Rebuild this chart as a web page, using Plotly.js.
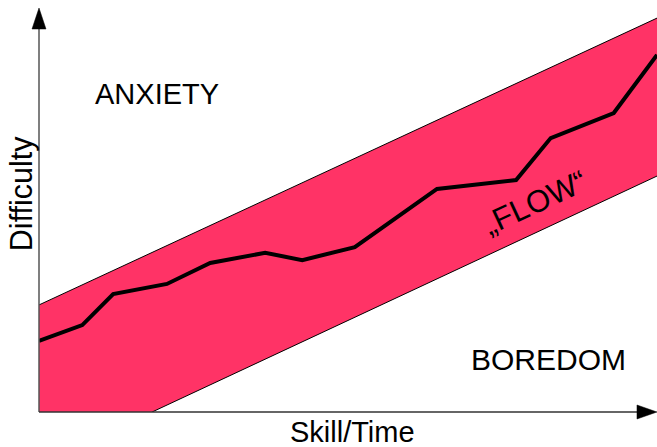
<!DOCTYPE html>
<html>
<head>
<meta charset="utf-8">
<script src="https://cdn.plot.ly/plotly-3.0.1.min.js"></script>
<style>html,body{margin:0;padding:0;background:#fff;}#chart{width:657px;height:447px;}</style>
</head>
<body>
<div id="chart"></div>
<script>
// Flow path (skill/time vs difficulty), arbitrary units 0-100
const flowX = [0, 7.0, 12.0, 20.7, 27.7, 36.6, 42.6, 51.1, 64.4, 77.2, 82.8, 93.0, 100];
const flowY = [17.6, 21.5, 29.2, 31.7, 36.9, 39.4, 37.6, 40.8, 55.2, 57.4, 67.8, 74.0, 88.4];

// Flow channel edges
const upperX = [0, 100];
const upperY = [26.5, 97.5];
const lowerX = [18.3, 100];
const lowerY = [0, 58.4];

// Region labels
const labels = ["ANXIETY", "BOREDOM", "„FLOW“"];
const labelX = [19.1, 82.4, 80.3];
const labelY = [78.7, 13.1, 51.8];
const labelAngle = [0, 0, -25];
const labelSize = [29, 30, 31];

const xTitle = "Skill/Time";
const yTitle = "Difficulty";

const pink = "#ff3366";
const fontFam = "Liberation Sans, Arial, sans-serif";

// Band polygon built from edges
const bandX = [0].concat(upperX, lowerX.slice().reverse(), [0]);
const bandY = [0].concat(upperY, lowerY.slice().reverse(), [0]);

const traces = [
  {x: bandX, y: bandY, mode: "lines", fill: "toself", fillcolor: pink,
   line: {width: 0, color: pink}, hoverinfo: "skip", showlegend: false},
  {x: upperX, y: upperY, mode: "lines", line: {color: "#000", width: 1}, showlegend: false},
  {x: lowerX, y: lowerY, mode: "lines", line: {color: "#000", width: 1}, showlegend: false},
  {x: flowX, y: flowY, mode: "lines", line: {color: "#000", width: 4}, showlegend: false}
];

const annotations = labels.map((t, i) => ({
  x: labelX[i], y: labelY[i], xref: "x", yref: "y", text: t, showarrow: false,
  textangle: labelAngle[i], font: {family: fontFam, size: labelSize[i], color: "#000"},
  xanchor: "center", yanchor: "middle"
}));
annotations.push({x: 0.508, y: -0.05, xref: "paper", yref: "paper", text: xTitle,
  showarrow: false, font: {family: fontFam, size: 29, color: "#000"}, xanchor: "center", yanchor: "middle"});
annotations.push({x: -0.027, y: 0.54, xref: "paper", yref: "paper", text: yTitle, textangle: -90,
  showarrow: false, font: {family: fontFam, size: 30.5, color: "#000"}, xanchor: "center", yanchor: "middle"});

const shapes = [
  {type: "line", xref: "paper", yref: "paper", x0: 0, y0: 0, x1: 0, y1: 0.96, line: {color: "#555", width: 1.5}},
  {type: "line", xref: "paper", yref: "paper", x0: 0, y0: 0, x1: 0.975, y1: 0, line: {color: "#333", width: 1.5}},
  {type: "path", xref: "paper", yref: "paper", path: "M 0 1 L -0.0113 0.948 L 0.0113 0.948 Z",
   fillcolor: "#000", line: {color: "#000", width: 0.5}},
  {type: "path", xref: "paper", yref: "paper", path: "M 1 0 L 0.9676 0.0173 L 0.9676 -0.0173 Z",
   fillcolor: "#000", line: {color: "#000", width: 0.5}}
];

const layout = {
  width: 657, height: 447,
  margin: {l: 39, r: 0, t: 8, b: 35},
  paper_bgcolor: "#fff", plot_bgcolor: "#fff",
  xaxis: {range: [0, 100], visible: false, fixedrange: true},
  yaxis: {range: [0, 100], visible: false, fixedrange: true},
  showlegend: false,
  annotations: annotations,
  shapes: shapes
};

Plotly.newPlot("chart", traces, layout, {displayModeBar: false, staticPlot: true});
</script>
</body>
</html>
